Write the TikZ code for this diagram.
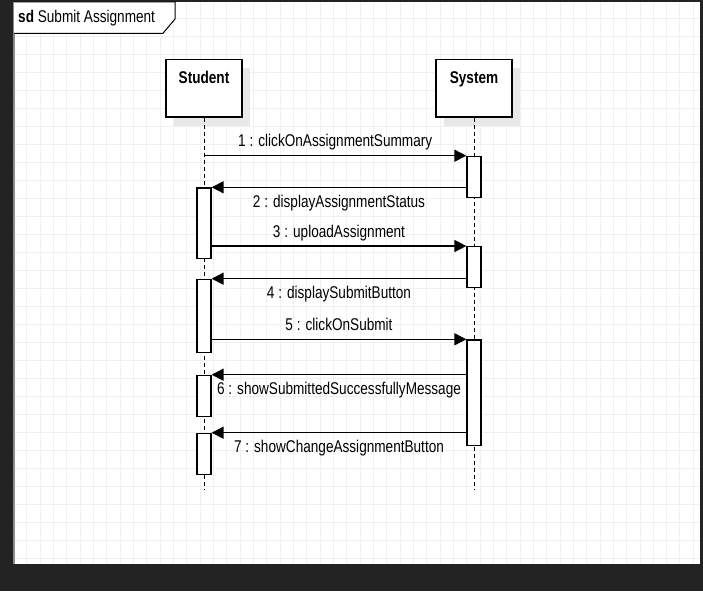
\documentclass[tikz,border=0pt]{standalone}
\usepackage{fontspec}
\usepackage{xcolor}
\usetikzlibrary{arrows.meta, positioning}
\newfontfamily\umlfont{Liberation Sans}[FakeStretch=0.8]
\definecolor{canvasdark}{RGB}{35,35,35}
\definecolor{gridgray}{RGB}{240,240,240}
\definecolor{shadowgray}{RGB}{232,232,232}
\definecolor{edgegray}{RGB}{140,140,140}

\begin{document}
\begin{tikzpicture}[
    x=1pt, y=-1pt,
    participant/.style={draw, fill=white, line width=1.2pt, minimum width=76pt, inner xsep=0pt, inner ysep=0pt, text height=24pt, text depth=33pt, font=\umlfont\fontsize{17}{19}\selectfont\bfseries},
    boxshadow/.style={fill=shadowgray},
    activation/.style={draw, fill=white, line width=1.2pt, minimum width=14pt, inner sep=0pt, anchor=north},
    lifeline/.style={line width=1pt, dash pattern=on 4pt off 3pt},
    msg/.style={-{Triangle[length=12pt, width=12pt]}, line width=1.3pt},
    msgtext/.style={font=\umlfont\fontsize{17}{19}\selectfont, inner sep=0pt, anchor=base},
    above msg/.style={msgtext, yshift=9pt},
    below msg/.style={msgtext, yshift=-20pt}
]
    % Background and grid
    \fill[canvasdark] (0,0) rectangle (703,591);
    \useasboundingbox (0,0) rectangle (703,591);
    \fill[white] (14,2) rectangle (700,564);
    \draw[gridgray, line width=0.7pt, xstep=13.33pt, ystep=18pt] (14,2) grid (700,564);
    \draw[edgegray, line width=1.5pt] (14,2) -- (14,564);

    % Frame label
    \draw[line width=1pt, fill=white] (14,2) -- (175,2) -- (175,19) -- (163,33.3) -- (14,33.3);
    \node[msgtext, anchor=base west] (sdlabel) at (18,22.7) {\textbf{sd} Submit Assignment};

    % Participants
    \fill[boxshadow] (174,68.3) rectangle (250,126);
    \fill[boxshadow] (444,68.3) rectangle (520,126);
    \node[participant, anchor=north] (student) at (204,59.3) {Student};
    \node[participant, anchor=north] (system) at (474,59.3) {System};

    % Lifelines
    \coordinate (studentend) at (204,490);
    \coordinate (systemend) at (474,490);
    \draw[lifeline] (student.south) -- (studentend);
    \draw[lifeline] (system.south) -- (systemend);

    % Activations
    \node[activation, minimum height=41pt] (sys1) at (474,155.7) {};
    \node[activation, minimum height=70.4pt] (stu1) at (204,187.3) {};
    \node[activation, minimum height=40.7pt] (sys2) at (474,246) {};
    \node[activation, minimum height=73pt] (stu2) at (204,278.7) {};
    \node[activation, minimum height=105.7pt] (sys3) at (474,339.3) {};
    \node[activation, minimum height=41pt] (stu3) at (204,374.7) {};
    \node[activation, minimum height=41.3pt] (stu4) at (204,432.7) {};

    % Messages
    \draw[msg] (sys1.north west -| student) -- node[above msg] {1 : clickOnAssignmentSummary} (sys1.north west);
    \draw[msg] (stu1.north east -| sys1.west) -- node[below msg] {2 : displayAssignmentStatus} (stu1.north east);
    \draw[msg] (sys2.north west -| stu1.east) -- node[above msg] {3 : uploadAssignment} (sys2.north west);
    \draw[msg] (stu2.north east -| sys2.west) -- node[below msg] {4 : displaySubmitButton} (stu2.north east);
    \draw[msg] (sys3.north west -| stu2.east) -- node[above msg] {5 : clickOnSubmit} (sys3.north west);
    \draw[msg] (stu3.north east -| sys3.west) -- node[below msg] {6 : showSubmittedSuccessfullyMessage} (stu3.north east);
    \draw[msg] (stu4.north east -| sys3.west) -- node[below msg] {7 : showChangeAssignmentButton} (stu4.north east);
\end{tikzpicture}
\end{document}
